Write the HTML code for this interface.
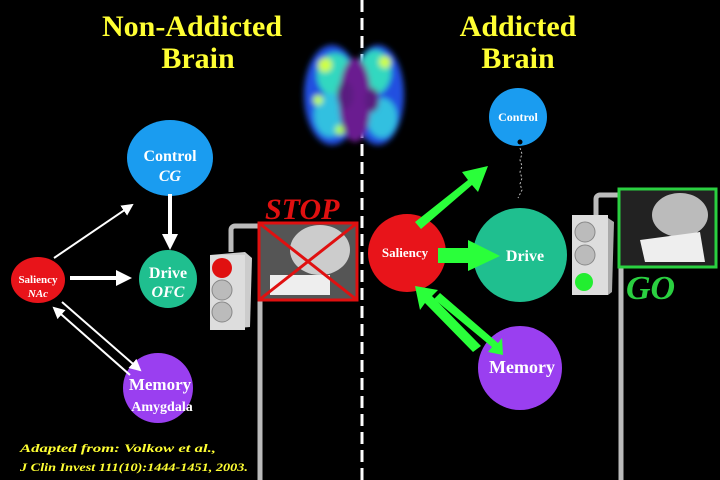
<!DOCTYPE html>
<html><head><style>
html,body{margin:0;padding:0;background:#000;}
svg{display:block}
text{font-family:"Liberation Serif",serif;font-weight:bold}
</style></head><body>
<svg width="720" height="480" viewBox="0 0 720 480" xmlns="http://www.w3.org/2000/svg">
<defs>
<marker id="wa" markerWidth="6" markerHeight="6" refX="5" refY="3" orient="auto" markerUnits="strokeWidth"><path d="M0,0 L6,3 L0,6 z" fill="#fff"/></marker>
<marker id="wa2" markerWidth="4" markerHeight="4" refX="3" refY="2" orient="auto" markerUnits="strokeWidth"><path d="M0,0 L4,2 L0,4 z" fill="#fff"/></marker>
<filter id="bl"><feGaussianBlur stdDeviation="3"/></filter>
</defs>
<rect width="720" height="480" fill="#000"/>
<g fill="#ffff33" font-size="30" text-anchor="middle">
<text x="192" y="36">Non-Addicted</text><text x="198" y="68">Brain</text>
<text x="518" y="36">Addicted</text><text x="518" y="68">Brain</text>
</g>
<line x1="362" y1="0" x2="362" y2="480" stroke="#fff" stroke-width="3" stroke-dasharray="12,6"/>
<!-- brain -->
<g filter="url(#bl)">
<ellipse cx="332" cy="95" rx="28" ry="50" fill="#2050e0"/>
<ellipse cx="378" cy="95" rx="26" ry="50" fill="#2050e0"/>
<ellipse cx="335" cy="75" rx="18" ry="22" fill="#30d8c0"/>
<ellipse cx="375" cy="72" rx="16" ry="22" fill="#30d8c0"/>
<ellipse cx="330" cy="115" rx="16" ry="22" fill="#30c0e0"/>
<ellipse cx="382" cy="118" rx="15" ry="20" fill="#30c0e0"/>
<circle cx="325" cy="65" r="7" fill="#d0ff40"/>
<circle cx="385" cy="62" r="6" fill="#d0ff40"/>
<circle cx="340" cy="130" r="5" fill="#b0ff40"/>
<circle cx="318" cy="100" r="5" fill="#c0ff50"/>
<ellipse cx="355" cy="100" rx="16" ry="42" fill="#6a1a90"/>
<ellipse cx="345" cy="95" rx="8" ry="14" fill="#5a1a80"/>
<ellipse cx="372" cy="100" rx="7" ry="12" fill="#5a1a80"/>
</g>
<!-- LEFT -->
<ellipse cx="170" cy="158" rx="43" ry="38" fill="#1a9cf0"/>
<text x="170" y="161" fill="#fff" font-size="16" text-anchor="middle">Control</text>
<text x="170" y="181" fill="#fff" font-size="16" font-style="italic" text-anchor="middle">CG</text>
<circle cx="168" cy="279" r="29" fill="#1fbf8f"/>
<text x="168" y="278" fill="#fff" font-size="16" text-anchor="middle">Drive</text>
<text x="168" y="297" fill="#fff" font-size="16" font-style="italic" text-anchor="middle">OFC</text>
<ellipse cx="38" cy="280" rx="27" ry="23" fill="#e8141a"/>
<text x="38" y="283" fill="#fff" font-size="11" text-anchor="middle">Saliency</text>
<text x="38" y="297" fill="#fff" font-size="11" font-style="italic" text-anchor="middle">NAc</text>
<circle cx="158" cy="388" r="35" fill="#9a3ff0"/>
<text x="160" y="390" fill="#fff" font-size="17" text-anchor="middle">Memory</text>
<text x="162" y="411" fill="#fff" font-size="14" text-anchor="middle">Amygdala</text>
<line x1="54" y1="258" x2="132" y2="205" stroke="#fff" stroke-width="2" marker-end="url(#wa)"/>
<line x1="70" y1="278" x2="128" y2="278" stroke="#fff" stroke-width="4" marker-end="url(#wa2)"/>
<line x1="170" y1="194" x2="170" y2="246" stroke="#fff" stroke-width="4" marker-end="url(#wa2)"/>
<line x1="62" y1="302" x2="140" y2="370" stroke="#fff" stroke-width="2" marker-end="url(#wa)"/>
<line x1="130" y1="375" x2="54" y2="308" stroke="#fff" stroke-width="2" marker-end="url(#wa)"/>
<!-- left traffic light -->
<path d="M231 252 V230 a4 4 0 0 1 4 -4 H258" fill="none" stroke="#bbb" stroke-width="5"/>
<line x1="260" y1="300" x2="260" y2="480" stroke="#bbb" stroke-width="5"/>
<polygon points="210,255 245,252 252,258 250,327 215,330 210,325" fill="#ccc"/>
<rect x="210" y="255" width="35" height="75" fill="#ddd"/>
<circle cx="222" cy="268" r="10" fill="#e01010"/>
<circle cx="222" cy="290" r="10" fill="#bbb" stroke="#888"/>
<circle cx="222" cy="312" r="10" fill="#bbb" stroke="#888"/>
<rect x="259" y="223" width="98" height="77" fill="#555" stroke="#e01010" stroke-width="3"/>
<ellipse cx="320" cy="250" rx="30" ry="25" fill="#ccc"/>
<rect x="270" y="275" width="60" height="20" fill="#eee"/>
<line x1="259" y1="223" x2="357" y2="300" stroke="#e01010" stroke-width="3"/>
<line x1="357" y1="223" x2="259" y2="300" stroke="#e01010" stroke-width="3"/>
<text x="265" y="219" fill="#e01010" font-size="30" font-style="italic" font-weight="normal">STOP</text>
<!-- RIGHT -->
<circle cx="518" cy="117" r="29" fill="#1a9cf0"/>
<text x="518" y="121" fill="#fff" font-size="12" text-anchor="middle">Control</text>
<circle cx="520" cy="142" r="2.5" fill="#000"/>
<path d="M520 148 l2 6 l-2 6 l2 6 l-2 6 l2 6 l-2 6 l2 6 l-4 8" fill="none" stroke="#bbb" stroke-width="1" stroke-dasharray="2,2"/>
<circle cx="520" cy="255" r="47" fill="#1fbf8f"/>
<text x="525" y="261" fill="#fff" font-size="16" text-anchor="middle">Drive</text>
<circle cx="407" cy="253" r="39" fill="#e8141a"/>
<text x="405" y="257" fill="#fff" font-size="13" text-anchor="middle">Saliency</text>
<circle cx="520" cy="368" r="42" fill="#9a3ff0"/>
<text x="522" y="373" fill="#fff" font-size="18" text-anchor="middle">Memory</text>
<g fill="#2aff3a">
<polygon points="415,222 468,180 462,172 488,166 478,192 472,185 421,229"/>
<polygon points="438,248 468,248 468,240 500,256 468,271 468,263 438,263"/>
<polygon points="440,293 498,343 502,338 503,355 488,352 492,347 434,299"/>
<polygon points="473,352 425,303 420,310 415,286 438,290 432,296 481,346"/>
</g>
<!-- right traffic light -->
<path d="M596 215 V199 a4 4 0 0 1 4 -4 H618" fill="none" stroke="#bbb" stroke-width="5"/>
<line x1="621" y1="268" x2="621" y2="480" stroke="#bbb" stroke-width="5"/>
<rect x="572" y="215" width="36" height="80" fill="#ddd"/>
<polygon points="608,218 614,222 612,292 608,295" fill="#aaa"/>
<circle cx="585" cy="232" r="10" fill="#bbb" stroke="#888"/>
<circle cx="585" cy="255" r="10" fill="#bbb" stroke="#888"/>
<circle cx="584" cy="282" r="9" fill="#22ee30"/>
<rect x="619" y="189" width="97" height="78" fill="#222" stroke="#2ad040" stroke-width="3"/>
<ellipse cx="680" cy="215" rx="28" ry="22" fill="#bbb"/>
<polygon points="640,240 700,232 705,262 645,262" fill="#eee"/>
<text x="626" y="299" fill="#2ad040" font-size="34" font-style="italic" font-weight="normal">GO</text>
<!-- citation -->
<g fill="#ffff33" font-size="12" font-style="italic">
<text x="20" y="452" textLength="196" lengthAdjust="spacingAndGlyphs">Adapted from: Volkow et al.,</text>
<text x="20" y="471" textLength="228" lengthAdjust="spacingAndGlyphs">J Clin Invest 111(10):1444-1451, 2003.</text>
</g>
</svg>
</body></html>
